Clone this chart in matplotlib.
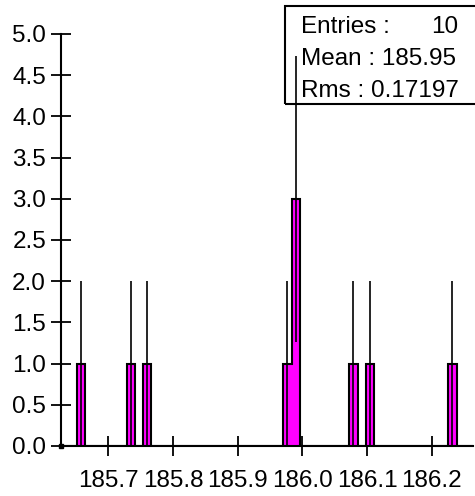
import matplotlib.pyplot as plt
import numpy as np
from matplotlib.patches import Rectangle

plt.rcParams['font.family'] = ['Liberation Sans', 'DejaVu Sans']

# histogram binning (50 bins)
x_lo = 185.6264
x_hi = 186.2639
n_bins = 50
# filled bins: index -> entries
filled_bins = [2, 8, 10, 27, 28, 35, 37, 47]
filled_counts = [1, 1, 1, 1, 3, 1, 1, 1]

x_ticks = [185.7, 185.8, 185.9, 186.0, 186.1, 186.2]
x_ticklabels = ['185.7', '185.8', '185.9', '186.0', '186.1', '186.2']
y_ticks = [0.0, 0.5, 1.0, 1.5, 2.0, 2.5, 3.0, 3.5, 4.0, 4.5, 5.0]

stat_names = ['Entries :', 'Mean :', 'Rms :']
stat_values = ['10', '185.95', '0.17197']

FS = 17.5
W, H = 475, 496
fig = plt.figure(figsize=(W / 100, H / 100), dpi=100)
ax = fig.add_axes([60.7 / W, (H - 446) / H, (473 - 60.7) / W, (446 - 34) / H])

edges = np.linspace(x_lo, x_hi, n_bins + 1)
counts = np.zeros(n_bins)
counts[filled_bins] = filled_counts
centers = 0.5 * (edges[:-1] + edges[1:])

ax.stairs(counts, edges, fill=True, color='#ff00ff', zorder=2)
ax.stairs(counts, edges, color='black', lw=1.5, zorder=3, baseline=0)

mask = counts > 0
err = np.sqrt(counts[mask])
ax.vlines(centers[mask], counts[mask] - err, counts[mask] + err,
          color='black', lw=1.2, zorder=4, clip_on=False)

ax.plot([x_lo], [0], marker='s', ms=3.5, color='black', clip_on=False, zorder=5)

ax.set_xlim(x_lo, x_hi)
ax.set_ylim(0, 5)
ax.set_xticks(x_ticks)
ax.set_xticklabels(x_ticklabels)
ax.set_yticks(y_ticks)
ax.set_yticklabels([f'{v:.1f}' for v in y_ticks])

for s in ['top', 'right']:
  ax.spines[s].set_visible(False)
ax.spines['left'].set_linewidth(1.5)
ax.spines['bottom'].set_linewidth(1.5)
ax.tick_params(axis='both', direction='inout', length=15, width=1.3,
               labelsize=FS, colors='black')
ax.tick_params(axis='x', pad=10)
ax.tick_params(axis='y', pad=3)
ax.patch.set_visible(False)

# statistics box
fig.patches.append(Rectangle((285 / W, (H - 104) / H), 200 / W, 98 / H,
                             transform=fig.transFigure, fill=False,
                             edgecolor='black', lw=1.5, zorder=10))
for i, (name, val) in enumerate(zip(stat_names, stat_values)):
  y = (H - 33 - 32 * i) / H
  if i == 0:
    fig.text(301 / W, y, name, fontsize=FS, va='baseline', ha='left')
    fig.text(458 / W, y, val, fontsize=FS, va='baseline', ha='right')
  else:
    fig.text(301 / W, y, f'{name} {val}', fontsize=FS, va='baseline', ha='left')

fig.savefig('out.png', dpi=100)
